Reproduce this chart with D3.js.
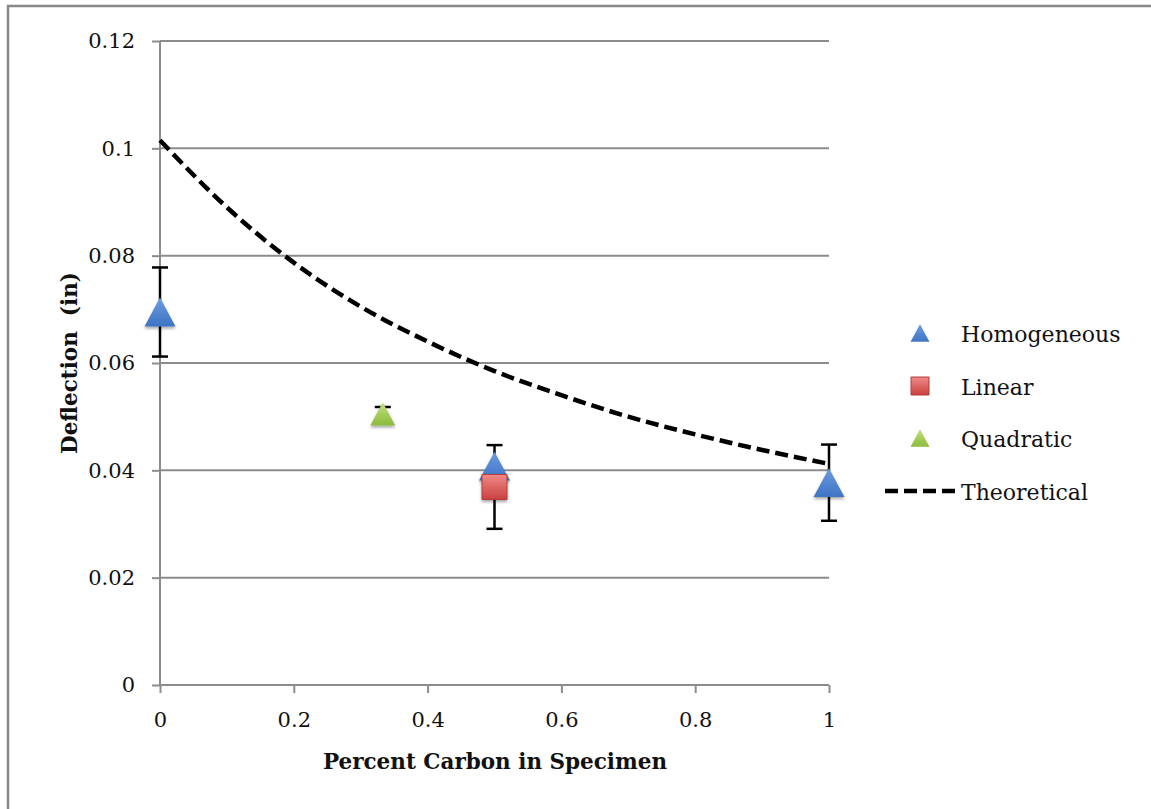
<!DOCTYPE html>
<html lang="en">
<head>
<meta charset="utf-8">
<script src="https://d3js.org/d3.v7.min.js"></script>
<style>
  body { margin: 0; background: #fff; }
  text { font-family: "DejaVu Serif", serif; fill: #111; }
</style>
</head>
<body>
<script>
// data
const xTicks = [0, 0.2, 0.4, 0.6, 0.8, 1];
const yTicks = [0, 0.02, 0.04, 0.06, 0.08, 0.1, 0.12];

const homogeneous = [
  { x: 0, y: 0.0695, err: 0.0083 },
  { x: 0.5, y: 0.0408, err: null },
  { x: 1, y: 0.0377, err: 0.0071 }
];
const linear = [
  { x: 0.5, y: 0.0369, err: 0.0078 }
];
const quadratic = [
  { x: 0.333, y: 0.0505, err: 0.0013 }
];
const theoreticalX = [0, 0.1, 0.2, 0.3, 0.4, 0.5, 0.6, 0.7, 0.8, 0.9, 1];
const theoreticalY = [0.1015, 0.0890, 0.0787, 0.0705, 0.0640, 0.0585, 0.0540, 0.0500, 0.0467, 0.0438, 0.0412];

const legendItems = ["Homogeneous", "Linear", "Quadratic", "Theoretical"];

const W = 1151, H = 809;
const FONT = "DejaVu Serif";
const svg = d3.select("body").append("svg").attr("width", W).attr("height", H);

// gradients + shadow
const defs = svg.append("defs");
function grad(id, top, bottom) {
  const g = defs.append("linearGradient").attr("id", id)
    .attr("x1", 0).attr("y1", 0).attr("x2", 0).attr("y2", 1);
  g.append("stop").attr("offset", "0%").attr("stop-color", top);
  g.append("stop").attr("offset", "100%").attr("stop-color", bottom);
}
grad("gBlue", "#6b9be0", "#3e74c4");
grad("gRed", "#f08a88", "#c9413e");
grad("gGreen", "#c3e07c", "#8cba3c");
const f = defs.append("filter").attr("id", "shadow")
  .attr("x", "-30%").attr("y", "-30%").attr("width", "160%").attr("height", "170%");
f.append("feDropShadow").attr("dx", 0).attr("dy", 2).attr("stdDeviation", 1.5)
  .attr("flood-color", "#000").attr("flood-opacity", 0.35);

// outer frame (cropped at right/bottom)
svg.append("path").attr("d", "M8,809 V6 H1151").attr("fill", "none")
  .attr("stroke", "#888").attr("stroke-width", 2.5);

const x = d3.scaleLinear().domain([0, 1]).range([160, 829]);
const y = d3.scaleLinear().domain([0, 0.12]).range([685, 41]);

// gridlines
svg.append("g").selectAll("line").data(yTicks.filter(d => d > 0)).join("line")
  .attr("x1", x(0)).attr("x2", x(1))
  .attr("y1", d => y(d)).attr("y2", d => y(d))
  .attr("stroke", "#8c8c8c").attr("stroke-width", 2);

// y axis
const yAxis = svg.append("g").attr("transform", `translate(${x(0)},0)`)
  .call(d3.axisLeft(y).tickValues(yTicks).tickSize(8).tickPadding(17)
    .tickFormat(d => d === 0 ? "0" : String(+d.toFixed(2))));
yAxis.select(".domain").attr("stroke", "#8c8c8c").attr("stroke-width", 2)
  .attr("d", `M0,${y(0.12)}V${y(0)}`);
yAxis.selectAll(".tick line").attr("stroke", "#8c8c8c").attr("stroke-width", 2);
yAxis.selectAll(".tick text").attr("font-size", 21).attr("font-family", FONT).attr("fill", "#111");

// x axis
const xAxis = svg.append("g").attr("transform", `translate(0,${y(0)})`)
  .call(d3.axisBottom(x).tickValues(xTicks).tickSize(8).tickPadding(19)
    .tickFormat(d => String(d)));
xAxis.select(".domain").attr("stroke", "#8c8c8c").attr("stroke-width", 2)
  .attr("d", `M${x(0)},0H${x(1)}`);
xAxis.selectAll(".tick line").attr("stroke", "#8c8c8c").attr("stroke-width", 2);
xAxis.selectAll(".tick text").attr("font-size", 21).attr("font-family", FONT).attr("fill", "#111");

// axis titles
svg.append("text").attr("x", 495).attr("y", 769).attr("text-anchor", "middle")
  .attr("font-size", 21.5).attr("font-weight", "bold").text("Percent Carbon in Specimen");
svg.append("text").attr("transform", "translate(77,363) rotate(-90)").attr("text-anchor", "middle")
  .attr("font-size", 21.5).attr("font-weight", "bold").attr("xml:space", "preserve")
  .text("Deflection  (in)");

// theoretical curve
const theo = theoreticalX.map((v, i) => ({ x: v, y: theoreticalY[i] }));
svg.append("path").datum(theo)
  .attr("fill", "none").attr("stroke", "#000").attr("stroke-width", 4.5)
  .attr("stroke-dasharray", "13,6")
  .attr("d", d3.line().x(d => x(d.x)).y(d => y(d.y)).curve(d3.curveMonotoneX));

// error bars
function errorBars(data) {
  const g = svg.append("g");
  data.filter(d => d.err).forEach(d => {
    const cx = x(d.x), y1 = y(d.y + d.err), y2 = y(d.y - d.err);
    g.append("line").attr("x1", cx).attr("x2", cx).attr("y1", y1).attr("y2", y2)
      .attr("stroke", "#000").attr("stroke-width", 2.5);
    [y1, y2].forEach(yy => g.append("line").attr("x1", cx - 8).attr("x2", cx + 8)
      .attr("y1", yy).attr("y2", yy).attr("stroke", "#000").attr("stroke-width", 2.5));
  });
}
errorBars(homogeneous);
errorBars(linear);
errorBars(quadratic);

function triangle(w) {
  const h = w * 0.93;
  return `M0,${-h / 2}L${w / 2},${h / 2}L${-w / 2},${h / 2}Z`;
}
function square(s) {
  return `M${-s / 2},${-s / 2}h${s}v${s}h${-s}Z`;
}

svg.append("g").selectAll("path").data(homogeneous).join("path")
  .attr("transform", d => `translate(${x(d.x)},${y(d.y)})`)
  .attr("d", triangle(31)).attr("fill", "url(#gBlue)").attr("filter", "url(#shadow)");
svg.append("g").selectAll("path").data(linear).join("path")
  .attr("transform", d => `translate(${x(d.x)},${y(d.y)})`)
  .attr("d", square(25)).attr("fill", "url(#gRed)").attr("stroke", "#b33c3a").attr("stroke-width", 1)
  .attr("filter", "url(#shadow)");
svg.append("g").selectAll("path").data(quadratic).join("path")
  .attr("transform", d => `translate(${x(d.x)},${y(d.y)})`)
  .attr("d", triangle(25)).attr("fill", "url(#gGreen)").attr("filter", "url(#shadow)");

// legend
const legend = svg.append("g");
const legY = [333, 386, 438, 491];
legendItems.forEach((name, i) => {
  const ly = legY[i];
  if (i === 0) legend.append("path").attr("transform", `translate(920,${ly})`)
    .attr("d", triangle(19)).attr("fill", "url(#gBlue)");
  if (i === 1) legend.append("path").attr("transform", `translate(920,${ly})`)
    .attr("d", square(18)).attr("fill", "url(#gRed)").attr("stroke", "#b33c3a");
  if (i === 2) legend.append("path").attr("transform", `translate(920,${ly})`)
    .attr("d", triangle(19)).attr("fill", "url(#gGreen)");
  if (i === 3) legend.append("line").attr("x1", 885).attr("x2", 958)
    .attr("y1", ly).attr("y2", ly).attr("stroke", "#000").attr("stroke-width", 4.5)
    .attr("stroke-dasharray", "13,6");
  legend.append("text").attr("x", 961).attr("y", ly + 9).attr("font-size", 22).text(name);
});
</script>
</body>
</html>
